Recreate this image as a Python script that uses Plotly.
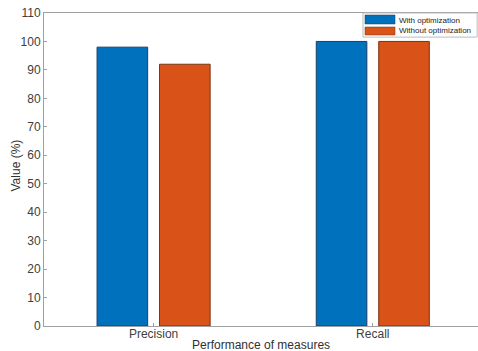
import plotly.graph_objects as go

categories = ["Precision", "Recall"]
with_opt = [98, 100]
without_opt = [92, 100]
series_names = ["With optimization", "Without optimization"]
series_colors = ["#0072BD", "#D95319"]
edge_colors = ["#1a3f66", "#7a3410"]
y_ticks = list(range(0, 111, 10))

fig = go.Figure()
fig.add_bar(x=[1, 2], y=with_opt, name=series_names[0], showlegend=False,
            marker=dict(color=series_colors[0], line=dict(color=edge_colors[0], width=1)))
fig.add_bar(x=[1, 2], y=without_opt, name=series_names[1], showlegend=False,
            marker=dict(color=series_colors[1], line=dict(color=edge_colors[1], width=1)))

# Legend drawn manually (MATLAB style compact legend box)
shapes = [
    dict(type="rect", xref="paper", yref="paper", x0=0.735, x1=0.998, y0=0.923, y1=1.0,
         line=dict(color="#bbbbbb", width=1), fillcolor="white", layer="above"),
    dict(type="rect", xref="paper", yref="paper", x0=0.7396, x1=0.8088, y0=0.9649, y1=0.9936,
         line=dict(color=edge_colors[0], width=0.5), fillcolor=series_colors[0], layer="above"),
    dict(type="rect", xref="paper", yref="paper", x0=0.7396, x1=0.8088, y0=0.9297, y1=0.9553,
         line=dict(color=edge_colors[1], width=0.5), fillcolor=series_colors[1], layer="above"),
]
legend_texts = [
    dict(text=series_names[0], x=0.8134, y=0.9776, xref="paper", yref="paper",
         xanchor="left", yanchor="middle", showarrow=False,
         font=dict(size=8, color="#222222")),
    dict(text=series_names[1], x=0.8134, y=0.9425, xref="paper", yref="paper",
         xanchor="left", yanchor="middle", showarrow=False,
         font=dict(size=8, color="#222222")),
]

fig.update_layout(
    width=478, height=351,
    margin=dict(l=44, r=0, t=13, b=25, autoexpand=False),
    barmode="group", bargap=0.43, bargroupgap=0.19,
    plot_bgcolor="white", paper_bgcolor="white",
    font=dict(family="Liberation Sans, Arial, sans-serif", color="#404040", size=12),
    showlegend=False,
    xaxis=dict(range=[0.5, 2.48], tickvals=[1, 2], ticktext=categories,
               showline=True, linecolor="#a0a0a0", mirror=True, ticks="inside",
               ticklen=3, tickcolor="#a0a0a0", showgrid=False, zeroline=False,
               automargin=False, ticklabelstandoff=-3,
               tickfont=dict(size=12, color="#404040")),
    yaxis=dict(range=[0, 110], tickvals=y_ticks,
               showline=True, linecolor="#a0a0a0", ticks="inside",
               ticklen=3, tickcolor="#a0a0a0", showgrid=False, zeroline=False,
               automargin=False,
               tickfont=dict(size=12, color="#404040")),
    shapes=shapes,
    annotations=[
        dict(text="Performance of measures", x=0.5, y=0, xref="paper", yref="paper",
             xanchor="center", yanchor="top", yshift=-10, showarrow=False,
             font=dict(size=12, color="#303030")),
        dict(text="Value (%)", x=0, y=0.5, xref="paper", yref="paper",
             xanchor="center", yanchor="middle", xshift=-29, yshift=4, textangle=-90,
             showarrow=False, font=dict(size=12, color="#303030")),
    ] + legend_texts,
)

fig.write_html("out.html",
               config={"displayModeBar": False},
               post_script="document.body.style.margin='0';document.body.style.overflow='hidden';")
